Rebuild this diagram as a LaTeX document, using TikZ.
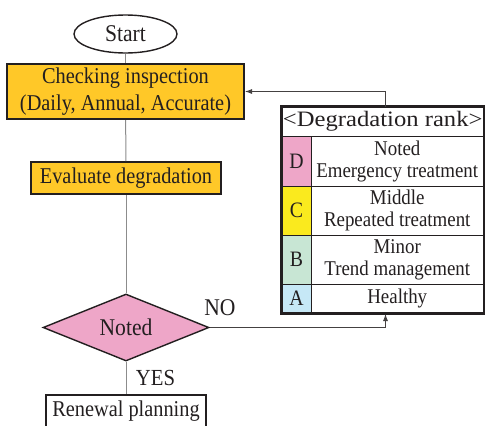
\documentclass[tikz,border=0pt]{standalone}
\usepackage{fontspec}
\setmainfont[FakeStretch=0.9]{Liberation Serif}
\newfontfamily\widefont[FakeStretch=1.12]{Liberation Serif}
\usetikzlibrary{shapes.geometric,arrows.meta}

\definecolor{inkc}{RGB}{35,31,32}
\definecolor{flowline}{RGB}{140,140,140}
\definecolor{boxorange}{RGB}{255,200,40}
\definecolor{rankD}{RGB}{238,166,200}
\definecolor{rankC}{RGB}{250,234,30}
\definecolor{rankB}{RGB}{200,230,212}
\definecolor{rankA}{RGB}{198,232,246}

\tikzset{
  every node/.style={text=inkc, inner sep=0pt, align=center},
  bigtxt/.style={font=\fontsize{22.6}{27}\selectfont},
  tabtxt/.style={font=\fontsize{21}{22}\selectfont},
  lettertxt/.style={font=\fontsize{22}{24}\selectfont},
  procbox/.style={rectangle, draw=inkc, line width=2pt, fill=boxorange, bigtxt},
  whitebox/.style={rectangle, draw=inkc, line width=1.6pt, fill=white, bigtxt},
  cell/.style={rectangle, draw=inkc, line width=0.8pt, tabtxt},
  flow/.style={draw=flowline, line width=1pt},
  feed/.style={draw=inkc!85, line width=0.8pt, -{Latex[length=7pt,width=5pt]}},
}

\begin{document}
\begin{tikzpicture}[x=1pt,y=-1pt]
  \clip (0,0) rectangle (485,426);
  \useasboundingbox (0,0) rectangle (485,426);

  % main flow
  \node[ellipse, draw=inkc, line width=1.4pt, minimum width=103pt, minimum height=38pt,
        font=\fontsize{24}{26}\selectfont] (start) at (125.5,34) {Start};
  \node[procbox, minimum width=237pt, minimum height=55pt] (check) at (125.5,91.5)
        {Checking inspection\\(Daily, Annual, Accurate)};
  \node[procbox, minimum width=190pt, minimum height=32pt] (eval) at (126,178)
        {Evaluate degradation};
  \node[diamond, draw=inkc, line width=1.4pt, fill=rankD, aspect=2.48,
        minimum width=166pt, minimum height=67pt,
        font=\fontsize{24}{26}\selectfont] (dec) at (126,327.5) {Noted};
  \node[whitebox, minimum width=160pt, minimum height=33pt] (renew) at (126,411.5)
        {Renewal planning};

  \draw[flow] (start) -- (check);
  \draw[flow] (check) -- (eval);
  \draw[flow] (eval) -- (dec);
  \draw[flow] (dec) -- (renew);

  \node[font=\fontsize{23}{26}\selectfont] (yes) at (155.5,378) {YES};
  \node[font=\fontsize{24}{26}\selectfont] (no) at (220,307.5) {NO};

  % degradation rank table
  \node[cell, minimum width=201.5pt, minimum height=29pt, font=\widefont\fontsize{22}{24}\selectfont]
        (head) at (382.75,121.5) {<Degradation rank>};
  \node[cell, fill=rankD, minimum width=29pt, minimum height=50pt, lettertxt]
        (dl) at (296.5,161) {D};
  \node[cell, minimum width=172.5pt, minimum height=50pt] (dt) at (397.25,161)
        {Noted\\Emergency treatment};
  \node[cell, fill=rankC, minimum width=29pt, minimum height=49pt, lettertxt]
        (cl) at (296.5,210.5) {C};
  \node[cell, minimum width=172.5pt, minimum height=49pt] (ct) at (397.25,210.5)
        {Middle\\Repeated treatment};
  \node[cell, fill=rankB, minimum width=29pt, minimum height=49pt, lettertxt]
        (bl) at (296.5,259.5) {B};
  \node[cell, minimum width=172.5pt, minimum height=49pt] (bt) at (397.25,259.5)
        {Minor\\Trend management};
  \node[cell, fill=rankA, minimum width=29pt, minimum height=29pt, lettertxt]
        (al) at (296.5,298.5) {A};
  \node[cell, minimum width=172.5pt, minimum height=29pt] (at) at (397.25,298.5)
        {Healthy};
  \draw[draw=inkc, line width=2.4pt] (head.north west) rectangle (at.south east);

  % connectors to and from the table
  \coordinate (tabbot) at (385.5,314);
  \coordinate (tabtop) at (385.5,107);
  \coordinate (bendup) at (385.5,327.5);
  \coordinate (bendtop) at (385.5,91.5);
  \draw[feed] (dec.east) -- (bendup) -- (tabbot);
  \draw[feed] (tabtop) -- (bendtop) -- (check.east);
\end{tikzpicture}
\end{document}
